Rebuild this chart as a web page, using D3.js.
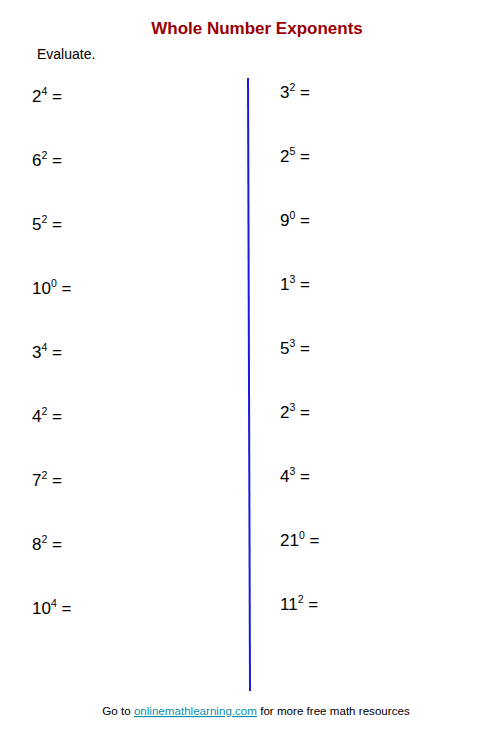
<!DOCTYPE html>
<html><head><meta charset="utf-8">
<script src="https://cdn.jsdelivr.net/npm/d3@7"></script>
<style>body{margin:0;background:#fff}</style></head>
<body><svg id="c" width="499" height="737"></svg>
<script>
const leftBases=["2","6","5","10","3","4","7","8","10"];
const leftExps=["4","2","2","0","4","2","2","2","4"];
const rightBases=["3","2","9","1","5","2","4","21","11"];
const rightExps=["2","5","0","3","3","3","3","0","2"];
const svg=d3.select("#c");
const f="Arial, 'Liberation Sans', sans-serif";
svg.append("text").attr("x",257).attr("y",34).attr("text-anchor","middle").attr("font-family",f)
 .attr("font-weight","bold").attr("font-size",17).attr("fill","#990000").text("Whole Number Exponents");
svg.append("text").attr("x",37).attr("y",59).attr("font-family",f).attr("font-size",14).text("Evaluate.");
const yL=d3.scaleLinear().domain([0,8]).range([102,614]);
const yR=d3.scaleLinear().domain([0,8]).range([98,610]);
function col(b,e,x,y){
 b.forEach((v,i)=>{
  const t=svg.append("text").attr("x",x).attr("y",y(i)).attr("font-family",f).attr("font-size",17).attr("fill","#000");
  t.append("tspan").text(v);
  t.append("tspan").attr("dy",-7).attr("font-size",10.5).text(e[i]);
  t.append("tspan").attr("dy",7).text(" =");
 });
}
col(leftBases,leftExps,32,yL);
col(rightBases,rightExps,280,yR);
svg.append("line").attr("x1",248).attr("x2",250).attr("y1",78).attr("y2",691).attr("stroke","#1a1adf").attr("stroke-width",2);
const ft=svg.append("text").attr("x",256).attr("y",715).attr("text-anchor","middle").attr("font-family",f).attr("font-size",11.6);
ft.append("tspan").text("Go to ");
ft.append("tspan").attr("fill","#0a8fa8").attr("text-decoration","underline").text("onlinemathlearning.com");
ft.append("tspan").text(" for more free math resources");
</script></body></html>
